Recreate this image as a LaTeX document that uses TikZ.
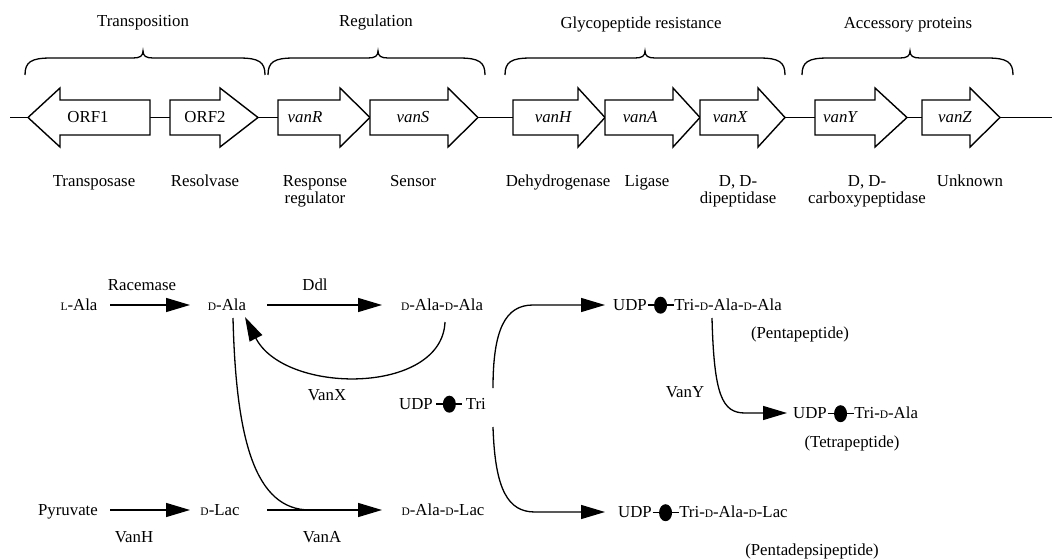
\documentclass[tikz,border=0pt]{standalone}
\usepackage{fontspec}
\setmainfont{Liberation Serif}
\usetikzlibrary{arrows.meta}
\newcommand\sdd{{\fontsize{11.5}{12}\selectfont D}}
\newcommand\sll{{\fontsize{11.5}{12}\selectfont L}}
\newcommand\udot{\tikz[baseline=0pt]{\draw[line width=1.5pt] (-13pt,4.8pt)--(13pt,4.8pt); \fill (0pt,4.8pt) ellipse (6.5pt and 8.5pt);}}
\newcommand\generight[3]{\draw[gene] (#1,100) -- (#2,100) -- (#2,88) -- (#3,117.5) -- (#2,147) -- (#2,135) -- (#1,135) -- cycle;}
\newcommand\gbrace[3]{\draw[br] (#1,75) .. controls (#1,62) and (#1+6,58) .. (#1+26,58) -- (#2-10,58) .. controls (#2-3,58) and (#2,56) .. (#2,51) .. controls (#2,56) and (#2+3,58) .. (#2+10,58) -- (#3-26,58) .. controls (#3-6,58) and (#3,62) .. (#3,75);}
\begin{document}
\begin{tikzpicture}[x=1pt,y=-1pt,
  font=\fontsize{16.8}{17.5}\selectfont,
  every node/.style={inner sep=0pt},
  lab/.style={anchor=base},
  fn/.style={anchor=north, align=center},
  gene/.style={draw, line width=1.4pt, fill=white, line join=miter},
  br/.style={line width=1.3pt},
  ln/.style={line width=1.3pt},
  rx/.style={line width=1.3pt, -{Triangle[length=24pt,width=14pt]}}]
\useasboundingbox (0,0) rectangle (1059,559);

% ---------------- gene map ----------------
\coordinate (axl) at (10,117.5);
\coordinate (axr) at (1052,117.5);
\draw[ln] (axl) -- (axr);

\gbrace{25}{143}{265}
\gbrace{268}{378}{485}
\gbrace{505}{645}{785}
\gbrace{802}{910}{1013}

\node[lab] (tTransp) at (143,27) {Transposition};
\node[lab] (tReg) at (376,27) {Regulation};
\node[lab] (tGly) at (641,29) {Glycopeptide resistance};
\node[lab] (tAcc) at (908,29) {Accessory proteins};

\draw[gene] (150,100) -- (60,100) -- (60,88) -- (28,117.5) -- (60,147) -- (60,135) -- (150,135) -- cycle;
\generight{170}{220}{258}
\generight{278}{340}{370}
\generight{370}{448}{478}
\generight{513}{578}{605}
\generight{605}{673}{700}
\generight{700}{758}{785}
\generight{815}{875}{907}
\generight{922}{970}{1000}

\node[lab] (gORF1) at (88,123) {ORF1};
\node[lab] (gORF2) at (205,123) {ORF2};
\node[lab] (gvanR) at (305,123) {\itshape vanR};
\node[lab] (gvanS) at (413,123) {\itshape vanS};
\node[lab] (gvanH) at (553,123) {\itshape vanH};
\node[lab] (gvanA) at (640,123) {\itshape vanA};
\node[lab] (gvanX) at (730,123) {\itshape vanX};
\node[lab] (gvanY) at (840,123) {\itshape vanY};
\node[lab] (gvanZ) at (955,123) {\itshape vanZ};

\node[fn] (fTransposase) at (94,175) {Transposase};
\node[fn] (fResolvase) at (205,175) {Resolvase};
\node[fn] (fResponse) at (315,175) {Response\\regulator};
\node[fn] (fSensor) at (413,175) {Sensor};
\node[fn] (fDehydro) at (558,175) {Dehydrogenase};
\node[fn] (fLigase) at (647,175) {Ligase};
\node[fn] (fDipep) at (738,175) {D, D-\\dipeptidase};
\node[fn] (fCarboxy) at (867,175) {D, D-\\carboxypeptidase};
\node[fn] (fUnknown) at (970,175) {Unknown};

% ---------------- pathway ----------------
\node[lab] (lala) at (79,310.5) {\sll-Ala};
\node[lab] (racem) at (142,290.5) {Racemase};
\node[lab] (dala) at (227,310.5) {\sdd-Ala};
\node[lab] (ddl) at (315,290.5) {Ddl};
\node[lab] (dalaala) at (442,310.5) {\sdd-Ala-\sdd-Ala};
\node[lab] (vanx) at (327,400.5) {VanX};
\node[anchor=base west] (udptri) at (399,409) {UDP\,\udot\,Tri};
\node[anchor=base west] (penta) at (613,310) {UDP\udot Tri-\sdd-Ala-\sdd-Ala};
\node[lab] (pental) at (800,338.5) {(Pentapeptide)};
\node[lab] (vany) at (685,397.5) {VanY};
\node[anchor=base west] (tetra) at (793,418.5) {UDP\udot Tri-\sdd-Ala};
\node[lab] (tetral) at (852,447.5) {(Tetrapeptide)};
\node[lab] (pyr) at (68,515.5) {Pyruvate};
\node[lab] (vanh) at (134,542.5) {VanH};
\node[lab] (dlac) at (220,515.5) {\sdd-Lac};
\node[lab] (vana) at (322,542.5) {VanA};
\node[lab] (dalalac) at (443,515.5) {\sdd-Ala-\sdd-Lac};
\node[anchor=base west] (pentad) at (618,517.5) {UDP\udot Tri-\sdd-Ala-\sdd-Lac};
\node[lab] (pentadl) at (812,555.5) {(Pentadepsipeptide)};

\coordinate (a1s) at (110,305);  \coordinate (a1e) at (190,305);
\coordinate (a2s) at (267,305);  \coordinate (a2e) at (382,305);
\coordinate (a3s) at (110,510);  \coordinate (a3e) at (190,510);
\coordinate (a4s) at (267,510);  \coordinate (a4e) at (382,510);
\coordinate (xs) at (445,322);   \coordinate (xe) at (245,317);
\coordinate (ds) at (233,318);   \coordinate (dm) at (310,510);
\coordinate (us) at (493,388);   \coordinate (ue) at (605,305);
\coordinate (ls) at (493,427);   \coordinate (le) at (605,512);
\coordinate (ys) at (712,318);   \coordinate (ye) at (787,413);

\draw[rx] (a1s) -- (a1e);
\draw[rx] (a2s) -- (a2e);
\draw[rx] (a3s) -- (a3e);
\draw[rx] (a4s) -- (a4e);
\draw[rx] (xs) .. controls (442,395) and (285,395) .. (xe);
\draw[ln] (ds) .. controls (236,440) and (255,510) .. (dm);
\draw[rx] (us) .. controls (493,330) and (505,305) .. (533,305) -- (ue);
\draw[rx] (ls) .. controls (495,490) and (508,512) .. (535,512) -- (le);
\draw[rx] (ys) .. controls (714,395) and (722,413) .. (745,413) -- (ye);
\end{tikzpicture}
\end{document}
